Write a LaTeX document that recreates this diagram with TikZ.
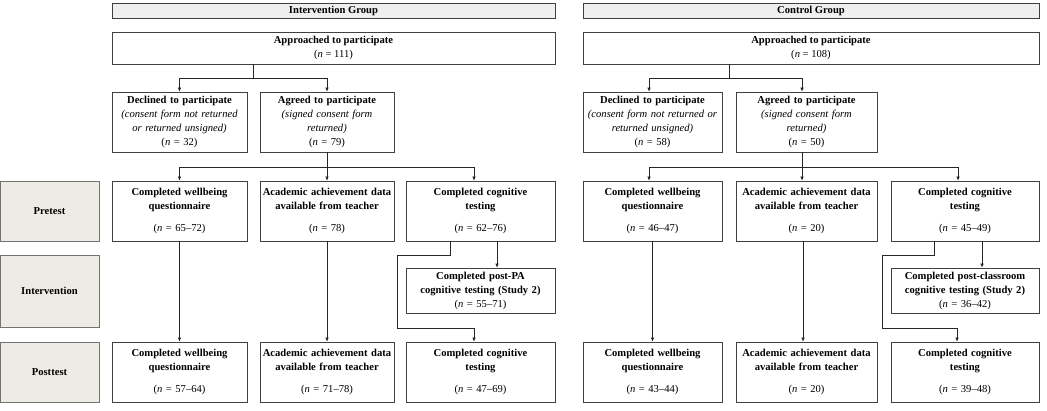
\documentclass[tikz,border=0pt]{standalone}
\usepackage{fontspec}
\setmainfont{Liberation Serif}
\usetikzlibrary{arrows.meta}
\definecolor{phasefill}{HTML}{EDEBE3}
\definecolor{headfill}{HTML}{EFEFEF}

\tikzset{
  box/.style={draw=black!75, line width=0.7pt, fill=white, align=center, inner sep=1pt,
    font=\fontsize{10.6}{14}\selectfont},
  head/.style={box, fill=headfill, font=\bfseries\fontsize{10.6}{11}\selectfont},
  phase/.style={box, draw=black!55, fill=phasefill, font=\bfseries\fontsize{10.6}{11}\selectfont},
  arr/.style={-{Latex[length=4pt,width=3.5pt]}, line width=0.6pt, draw=black!85},
  ln/.style={line width=0.6pt, draw=black!85}
}
\newcommand{\nn}[1]{(\textit{n} = #1)}

\begin{document}
\begin{tikzpicture}[x=1pt,y=-1pt]
\useasboundingbox (0,0) rectangle (1047,410);

% phases
\node[phase, minimum width=99pt, minimum height=60pt] (pre) at (49.5,211) {Pretest};
\node[phase, minimum width=99pt, minimum height=72pt] (int) at (49.5,291) {Intervention};
\node[phase, minimum width=99pt, minimum height=60pt] (post) at (49.5,372) {Posttest};

% intervention group
\node[head, minimum width=443pt, minimum height=15pt] (hdI) at (333.5,10.5) {Intervention Group};
\node[box, minimum width=443pt, minimum height=32pt] (appI) at (333.5,48)
  {\textbf{Approached to participate}\\\nn{111}};
\node[box, minimum width=135pt, text width=133pt, minimum height=60pt] (decI) at (179.5,122)
  {\textbf{Declined to participate}\\\textit{(consent form not returned}\\\textit{or returned unsigned)}\\\nn{32}};
\node[box, minimum width=134pt, text width=132pt, minimum height=60pt] (agrI) at (327,122)
  {\textbf{Agreed to participate}\\\textit{(signed consent form}\\\textit{returned)}\\\nn{79}};

\node[box, minimum width=135pt, text width=133pt, minimum height=60pt] (wbI) at (179.5,211)
  {\textbf{Completed wellbeing}\\\textbf{questionnaire}\\[8pt]\nn{65--72}};
\node[box, minimum width=134pt, text width=132pt, minimum height=60pt] (acI) at (327,211)
  {\textbf{Academic achievement data}\\\textbf{available from teacher}\\[8pt]\nn{78}};
\node[box, minimum width=149pt, text width=147pt, minimum height=60pt] (cgI) at (480.5,211)
  {\textbf{Completed cognitive}\\\textbf{testing}\\[8pt]\nn{62--76}};

\node[box, minimum width=149pt, text width=147pt, minimum height=45pt] (paI) at (480.5,290.5)
  {\textbf{Completed post-PA}\\\textbf{cognitive testing (Study 2)}\\\nn{55--71}};

\node[box, minimum width=135pt, text width=133pt, minimum height=60pt] (wbIp) at (179.5,372)
  {\textbf{Completed wellbeing}\\\textbf{questionnaire}\\[8pt]\nn{57--64}};
\node[box, minimum width=134pt, text width=132pt, minimum height=60pt] (acIp) at (327,372)
  {\textbf{Academic achievement data}\\\textbf{available from teacher}\\[8pt]\nn{71--78}};
\node[box, minimum width=149pt, text width=147pt, minimum height=60pt] (cgIp) at (480.5,372)
  {\textbf{Completed cognitive}\\\textbf{testing}\\[8pt]\nn{47--69}};

% control group
\node[head, minimum width=456pt, minimum height=15pt] (hdC) at (811,10.5) {Control Group};
\node[box, minimum width=456pt, minimum height=32pt] (appC) at (811,48)
  {\textbf{Approached to participate}\\\nn{108}};
\node[box, minimum width=139pt, text width=137pt, minimum height=60pt] (decC) at (652.5,122)
  {\textbf{Declined to participate}\\\textit{(consent form not returned or}\\\textit{returned unsigned)}\\\nn{58}};
\node[box, minimum width=141pt, text width=139pt, minimum height=60pt] (agrC) at (806.5,122)
  {\textbf{Agreed to participate}\\\textit{(signed consent form}\\\textit{returned)}\\\nn{50}};

\node[box, minimum width=139pt, text width=137pt, minimum height=60pt] (wbC) at (652.5,211)
  {\textbf{Completed wellbeing}\\\textbf{questionnaire}\\[8pt]\nn{46--47}};
\node[box, minimum width=141pt, text width=139pt, minimum height=60pt] (acC) at (806.5,211)
  {\textbf{Academic achievement data}\\\textbf{available from teacher}\\[8pt]\nn{20}};
\node[box, minimum width=148pt, text width=146pt, minimum height=60pt] (cgC) at (965,211)
  {\textbf{Completed cognitive}\\\textbf{testing}\\[8pt]\nn{45--49}};

\node[box, minimum width=148pt, text width=146pt, minimum height=45pt] (pcC) at (965,290.5)
  {\textbf{Completed post-classroom}\\\textbf{cognitive testing (Study 2)}\\\nn{36--42}};

\node[box, minimum width=139pt, text width=137pt, minimum height=60pt] (wbCp) at (652.5,372)
  {\textbf{Completed wellbeing}\\\textbf{questionnaire}\\[8pt]\nn{43--44}};
\node[box, minimum width=141pt, text width=139pt, minimum height=60pt] (acCp) at (806.5,372)
  {\textbf{Academic achievement data}\\\textbf{available from teacher}\\[8pt]\nn{20}};
\node[box, minimum width=148pt, text width=146pt, minimum height=60pt] (cgCp) at (965,372)
  {\textbf{Completed cognitive}\\\textbf{testing}\\[8pt]\nn{39--48}};

% connectors, intervention group
\coordinate (sI) at (253.5,78);
\draw[ln] (sI |- appI.south) -- (sI);
\draw[arr] (sI) -| (decI.north);
\draw[arr] (sI) -| (agrI.north);
\coordinate (tI) at (327,167);
\draw[ln] (agrI.south) -- (tI);
\draw[arr] (tI) -| (wbI.north);
\draw[arr] (tI) -- (acI.north);
\draw[arr] (tI) -| ([xshift=-6.5pt]cgI.north);
\draw[arr] (wbI) -- (wbIp);
\draw[arr] (acI) -- (acIp);
\draw[arr] ([xshift=16.5pt]cgI.south) -- ([xshift=16.5pt]paI.north);
\coordinate (bI) at (397,328);
\draw[arr] ([xshift=-30.5pt]cgI.south) -- ++(0,14) -| (bI) -| ([xshift=-6.5pt]cgIp.north);

% connectors, control group
\coordinate (sC) at (729,78);
\draw[ln] (sC |- appC.south) -- (sC);
\draw[arr] (sC) -| ([xshift=-3.5pt]decC.north);
\draw[arr] (sC) -| ([xshift=-4.5pt]agrC.north);
\coordinate (tC) at (802,167);
\draw[ln] ([xshift=-4.5pt]agrC.south) -- (tC);
\draw[arr] (tC) -| ([xshift=-3.5pt]wbC.north);
\draw[arr] (tC) -- (tC |- acC.north);
\draw[arr] (tC) -| ([xshift=-7pt]cgC.north);
\draw[arr] (wbC) -- (wbCp);
\draw[arr] ([xshift=-3.5pt]acC.south) -- ([xshift=-3.5pt]acCp.north);
\draw[arr] ([xshift=17pt]cgC.south) -- ([xshift=17pt]pcC.north);
\coordinate (bC) at (882,328);
\draw[arr] ([xshift=-31pt]cgC.south) -- ++(0,14) -| (bC) -| ([xshift=-8pt]cgCp.north);
\end{tikzpicture}
\end{document}
